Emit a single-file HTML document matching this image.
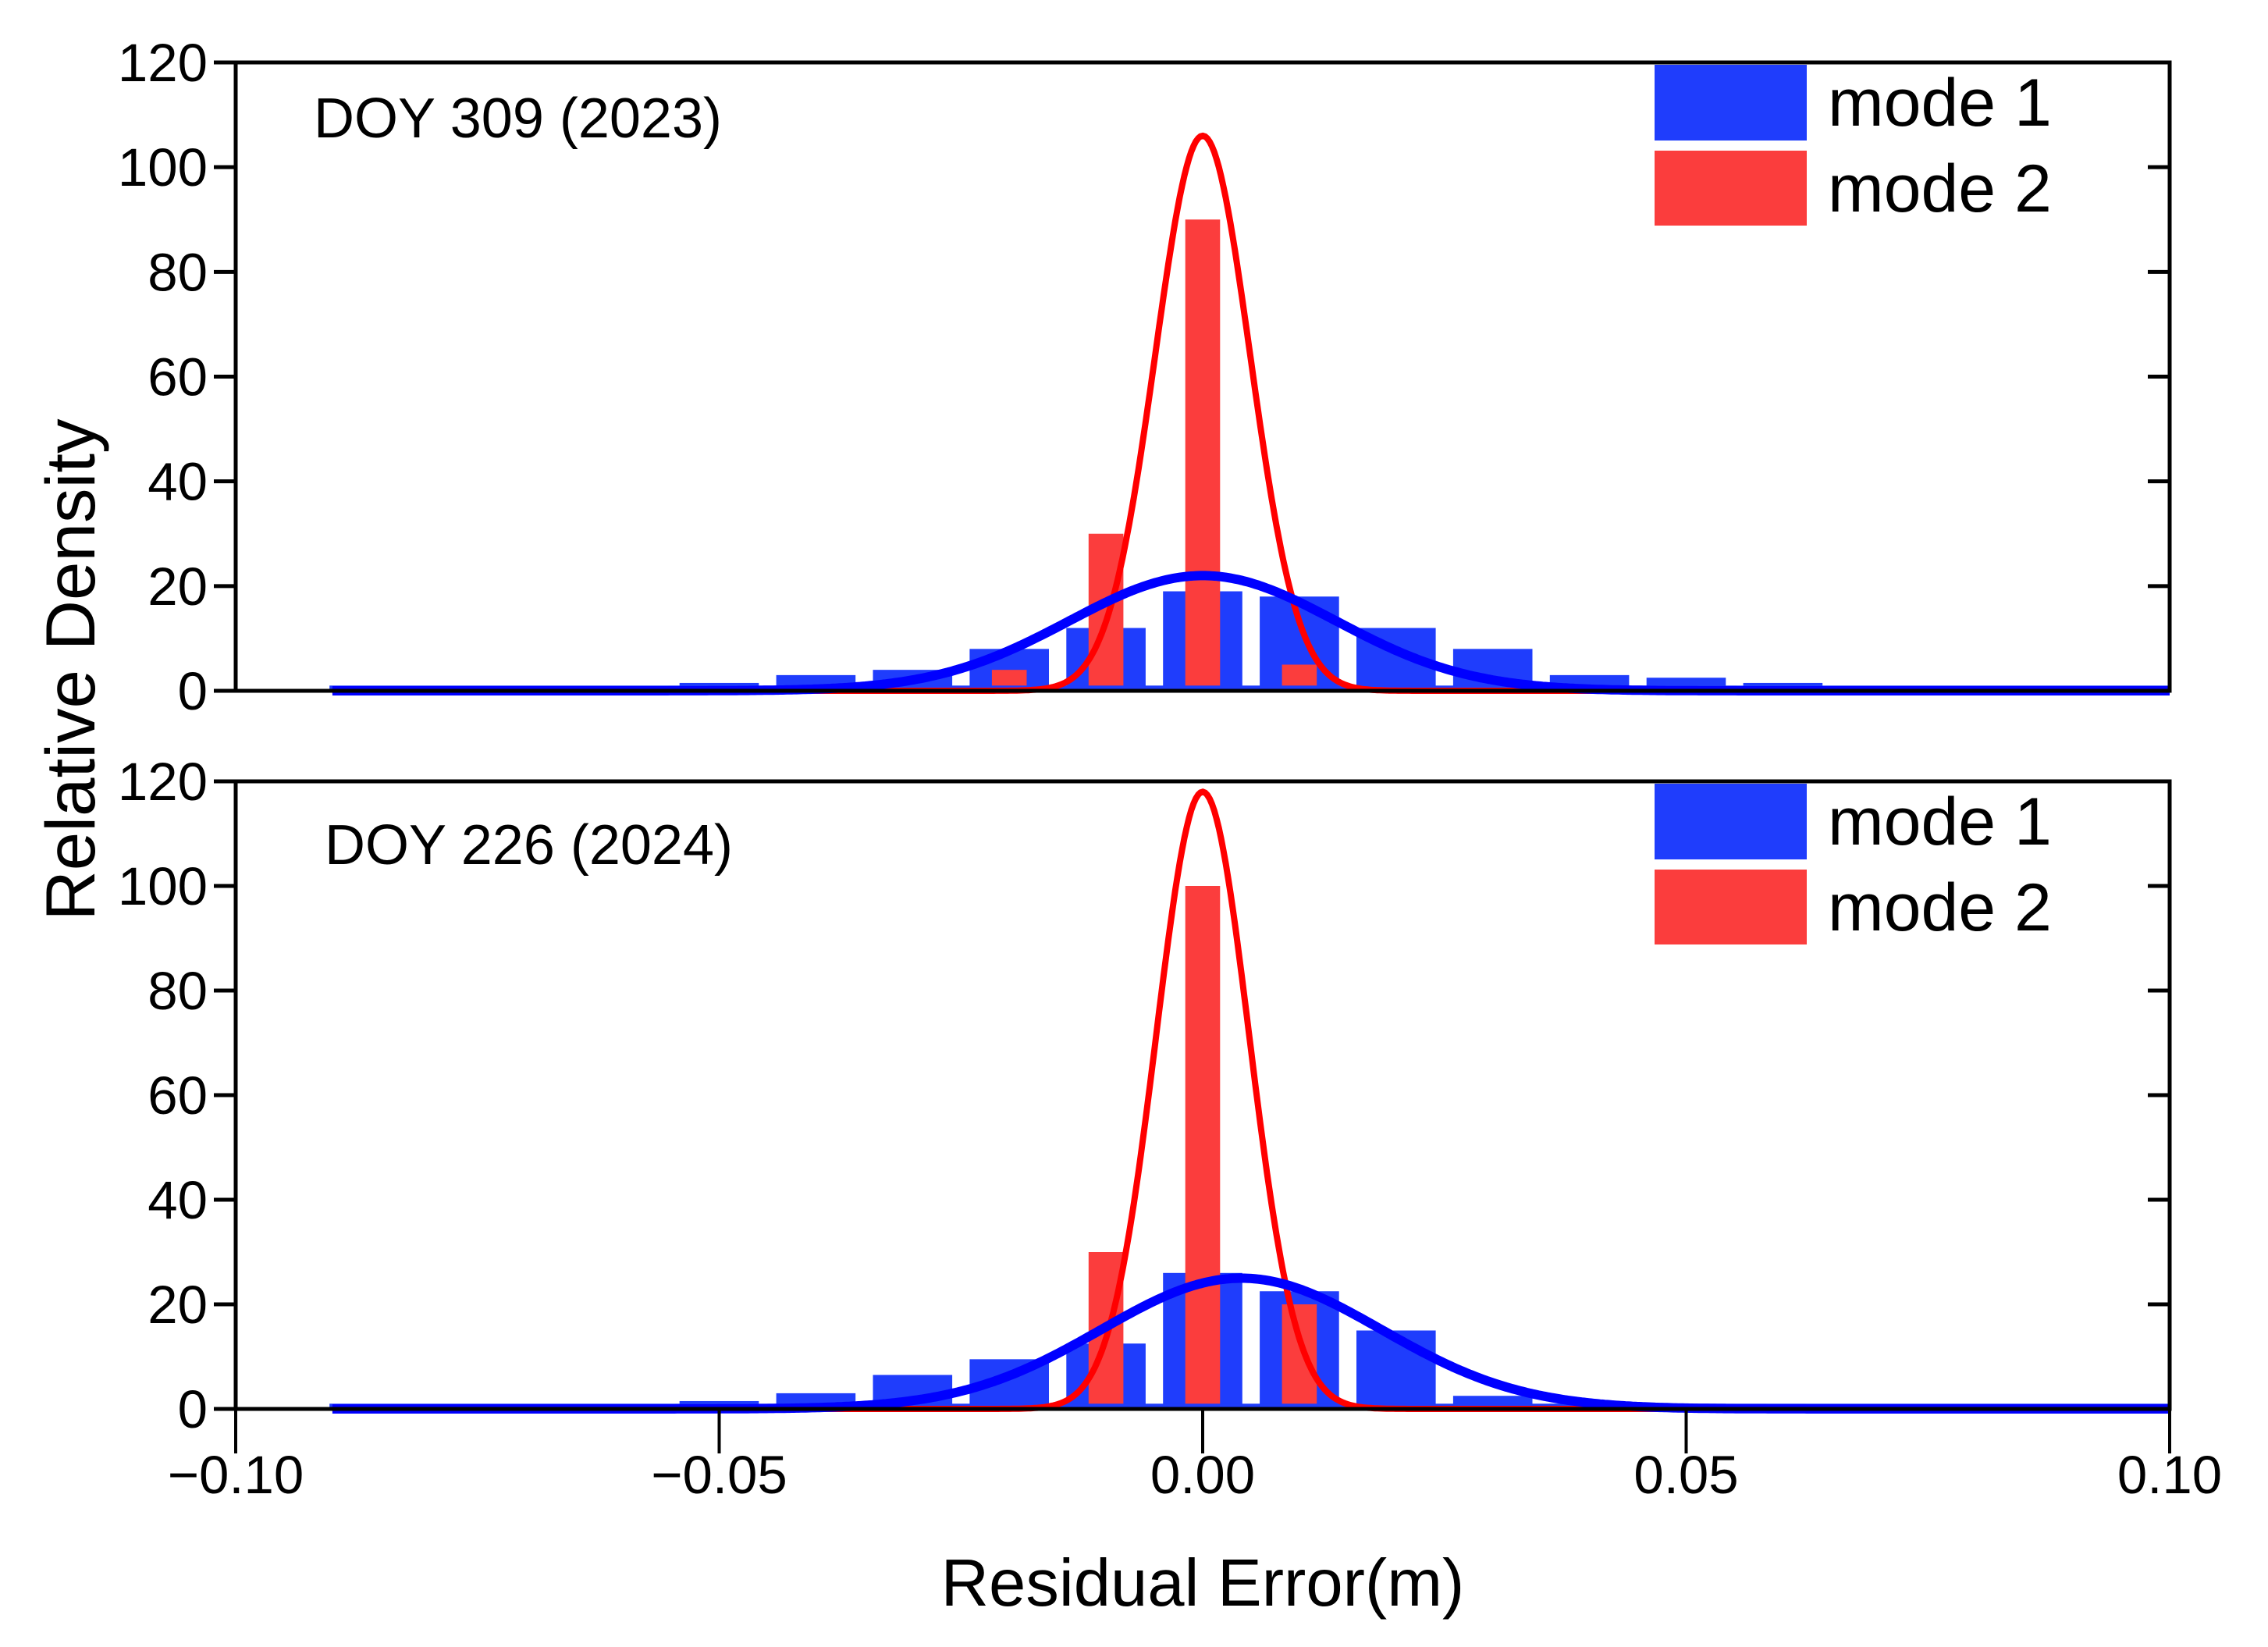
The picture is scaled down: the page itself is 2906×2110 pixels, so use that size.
<!DOCTYPE html>
<html><head><meta charset="utf-8"><style>
html,body{margin:0;padding:0;background:#fff}
svg{display:block;font-family:"Liberation Sans",Arial,sans-serif}
</style></head><body>
<svg id="chart" width="2906" height="2110" viewBox="0 0 2906 2110"></svg>
<script>
const xTicks=[-0.10,-0.05,0.00,0.05,0.10];
const xTickLabels=["\u22120.10","\u22120.05","0.00","0.05","0.10"];
const yTicks=[0,20,40,60,80,100,120];
const binCenters=[-0.09,-0.08,-0.07,-0.06,-0.05,-0.04,-0.03,-0.02,-0.01,0.00,0.01,0.02,0.03,0.04,0.05,0.06,0.07,0.08,0.09,0.10];
const topMode1=[0,0,0,0,1.5,3,4,8,12,19,18,12,8,3,2.5,1.5,0,0,0,0];
const topMode2=[0,0,0,0,0,0,0,4,30,90,5,0,0,0,0,0,0,0,0,0];
const botMode1=[0,0,0,0,1.5,3,6.5,9.5,12.5,26,22.5,15,2.5,1,1,0,0,0,0,0];
const botMode2=[0,0,0,0,0,0,0,0,30,100,20,0,0,0,0,0,0,0,0,0];
const topFit1=[22,0.0,0.0138];
const topFit2=[106,0.0,0.0049];
const botFit1=[25,0.004,0.0145];
const botFit2=[118,0.0,0.0048];
const tailLevel=[1,1];
const panelTitles=["DOY 309 (2023)","DOY 226 (2024)"];

const NS="http://www.w3.org/2000/svg";
const svg=document.getElementById('chart');
const L=302,R=2780;
function xs(v){return L+(v+0.10)/0.20*(R-L);}
function mk(tag,attrs,parent){const e=document.createElementNS(NS,tag);for(const k in attrs)e.setAttribute(k,attrs[k]);(parent||svg).appendChild(e);return e;}

function panel(idx,top,bottom,m1,m2,f1,f2,title){
  const g=mk('g',{});
  
  
  const ys=v=>bottom-v/120*(bottom-top);
  const bw1=(xs(0.0082)-xs(0)), bw2=(xs(0.0036)-xs(0));
  binCenters.forEach((c,i)=>{
    if(m1[i]>0){const r=mk('rect',{x:xs(c)-bw1/2,y:ys(m1[i]),width:bw1,height:ys(0)-ys(m1[i]),fill:'#1f3dfc'},g);
      
      }
  });
  binCenters.forEach((c,i)=>{
    if(m2[i]>0){const r=mk('rect',{x:xs(c)-bw2/2,y:ys(m2[i]),width:bw2,height:ys(0)-ys(m2[i]),fill:'#fb3d3d'},g);
      
      }
  });
  const tl=tailLevel[idx];
  const tail=mk('rect',{x:xs(-0.0903),y:ys(tl),width:xs(0.10)-xs(-0.0903),height:ys(0)-ys(tl),fill:'#1f3dfc'},g);
  
  
  function curve(f,col,w,name){
    let d='';
    for(let k=0;k<=800;k++){const x=-0.09+k*0.19/800;const v=f[0]*Math.exp(-((x-f[1])**2)/(2*f[2]*f[2]));d+=(k?'L':'M')+xs(x).toFixed(1)+','+ys(v).toFixed(1);}
    const p=mk('path',{d:d,fill:'none',stroke:col,'stroke-width':w},g);
    
    
  }
  curve(f2,'#ff0000',8,'mode2-fit-curve');
  curve(f1,'#0000ff',12,'mode1-fit-curve');
  const fr=mk('rect',{x:L,y:top,width:R-L,height:bottom-top,fill:'none',stroke:'#000','stroke-width':5},g);
  
  
  yTicks.forEach(t=>{
    mk('line',{x1:L-28,x2:L,y1:ys(t),y2:ys(t),stroke:'#000','stroke-width':5},g);
    mk('line',{x1:R-28,x2:R,y1:ys(t),y2:ys(t),stroke:'#000','stroke-width':5},g);
    const tx=mk('text',{x:L-36,y:ys(t)+24,'font-size':69,'text-anchor':'end',fill:'#000'},g);
    tx.textContent=t;
    
    
  });
  const tt=mk('text',{x:idx===0?402:416,y:top+(idx===0?96:106),'font-size':72,fill:'#000'},g);
  tt.textContent=title;
  
  
  const lg=mk('g',{},g);
  
  
  const ly=top+3;
  mk('rect',{x:2120,y:ly,width:195,height:97,fill:'#1f3dfc'},lg);
  mk('rect',{x:2120,y:ly+110,width:195,height:96,fill:'#fb3d3d'},lg);
  const l1=mk('text',{x:2342,y:ly+78,'font-size':86,fill:'#000'},lg);l1.textContent='mode 1';
  
  
  const l2=mk('text',{x:2342,y:ly+188,'font-size':86,fill:'#000'},lg);l2.textContent='mode 2';
  
  
}
panel(0,80,885,topMode1,topMode2,topFit1,topFit2,panelTitles[0]);
panel(1,1001,1805,botMode1,botMode2,botFit1,botFit2,panelTitles[1]);

xTicks.forEach((t,i)=>{
  mk('line',{x1:xs(t),x2:xs(t),y1:1805,y2:1862,stroke:'#000','stroke-width':4});
  const tx=mk('text',{x:xs(t),y:1913,'font-size':69,'text-anchor':'middle',fill:'#000'});
  tx.textContent=xTickLabels[i];
  
  
});
const xt=mk('text',{x:1541,y:2057,'font-size':85,'text-anchor':'middle',fill:'#000'});
xt.textContent='Residual Error(m)';


const yt=mk('text',{x:0,y:0,'font-size':89,'text-anchor':'middle',fill:'#000',transform:'translate(121,858) rotate(-90)'});
yt.textContent='Relative Density';


</script>
</body></html>
